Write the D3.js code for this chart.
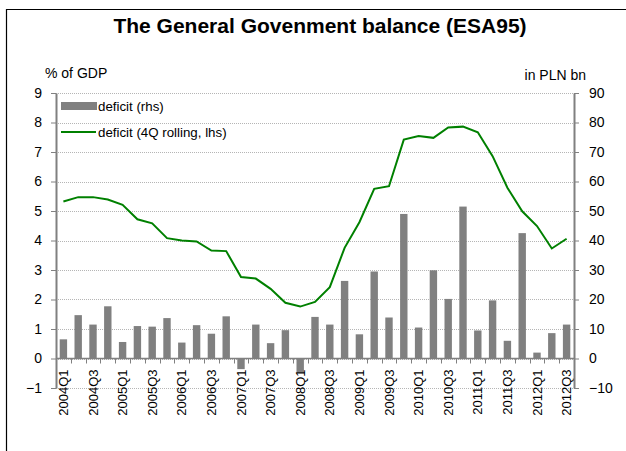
<!DOCTYPE html>
<html>
<head>
<meta charset="utf-8">
<script src="https://cdn.jsdelivr.net/npm/d3@7"></script>
<style>
  body { margin: 0; background: #fff; }
  text { font-family: "Liberation Sans", Arial, sans-serif; fill: #000; }
</style>
</head>
<body>
<div id="chart"></div>
<script>
// quarters 2004Q1 .. 2012Q3
var quarters = ["2004Q1","2004Q2","2004Q3","2004Q4","2005Q1","2005Q2","2005Q3","2005Q4",
  "2006Q1","2006Q2","2006Q3","2006Q4","2007Q1","2007Q2","2007Q3","2007Q4",
  "2008Q1","2008Q2","2008Q3","2008Q4","2009Q1","2009Q2","2009Q3","2009Q4",
  "2010Q1","2010Q2","2010Q3","2010Q4","2011Q1","2011Q2","2011Q3","2011Q4",
  "2012Q1","2012Q2","2012Q3"];

// deficit in PLN bn (rhs)
var deficitBn = [6.5,14.7,11.5,17.7,5.6,11.0,10.8,13.7,5.4,11.3,8.4,14.3,-3.6,11.5,5.2,9.6,
  -4.7,14.1,11.5,26.3,8.2,29.5,13.9,49.0,10.5,29.9,20.2,51.5,9.5,19.7,6.0,42.5,2.0,8.6,11.5];

// deficit 4Q rolling, % of GDP (lhs)
var deficitPct = [5.32,5.47,5.47,5.39,5.21,4.72,4.58,4.08,4.0,3.97,3.66,3.64,2.76,2.71,2.36,1.89,
  1.76,1.92,2.42,3.75,4.62,5.75,5.84,7.42,7.54,7.48,7.83,7.86,7.67,6.86,5.79,4.99,4.49,3.73,4.06];

var leftTicks = d3.range(-1, 10);
var rightTicks = d3.range(-10, 100, 10);

var width = 626, height = 451;
var margin = {top: 93, right: 52, bottom: 63, left: 56};

var svg = d3.select("#chart").append("svg")
    .attr("width", width)
    .attr("height", height);

// frame (top and left edges only visible)
svg.append("path")
    .attr("d", "M6.5," + height + "V9.5H" + width)
    .attr("fill", "none")
    .attr("stroke", "#000")
    .attr("stroke-width", 1.2);

svg.append("text")
    .attr("x", 320)
    .attr("y", 33)
    .attr("text-anchor", "middle")
    .style("font-size", "21px")
    .style("font-weight", "bold")
    .text("The General Govenment balance (ESA95)");

var x = d3.scaleBand()
    .domain(quarters)
    .range([margin.left, width - margin.right])
    .paddingInner(0.5)
    .paddingOuter(0.25);

var yL = d3.scaleLinear().domain([-1, 9]).range([height - margin.bottom, margin.top]);
var yR = d3.scaleLinear().domain([-10, 90]).range([height - margin.bottom, margin.top]);

// gridlines
svg.append("g")
  .selectAll("line")
  .data(leftTicks)
  .enter().append("line")
    .attr("x1", margin.left)
    .attr("x2", width - margin.right)
    .attr("y1", function(d) { return Math.round(yL(d)) + 0.5; })
    .attr("y2", function(d) { return Math.round(yL(d)) + 0.5; })
    .attr("stroke", "#b5b5b5")
    .attr("stroke-dasharray", "1,1");

// bars
svg.append("g")
  .selectAll("rect")
  .data(deficitBn)
  .enter().append("rect")
    .attr("x", function(d, i) { return x(quarters[i]); })
    .attr("width", x.bandwidth())
    .attr("y", function(d) { return yR(Math.max(0, d)); })
    .attr("height", function(d) { return Math.abs(yR(d) - yR(0)); })
    .attr("fill", "#808080");

// zero axis with quarter ticks
var step = x.step();
var xAxis = svg.append("g").attr("stroke", "#808080");
xAxis.append("line")
    .attr("x1", margin.left).attr("x2", width - margin.right)
    .attr("y1", yL(0)).attr("y2", yL(0))
    .attr("stroke-width", 1.5);
xAxis.selectAll(".qt")
  .data(quarters)
  .enter().append("line")
    .attr("class", "qt")
    .attr("x1", function(d) { return Math.round(x(d) + x.bandwidth() / 2 - step / 2) + 0.5; })
    .attr("x2", function(d) { return Math.round(x(d) + x.bandwidth() / 2 - step / 2) + 0.5; })
    .attr("y1", yL(0)).attr("y2", yL(0) + 5);

// rolling line
var line = d3.line()
    .x(function(d, i) { return x(quarters[i]) + x.bandwidth() / 2; })
    .y(function(d) { return yL(d); });

svg.append("path")
    .datum(deficitPct)
    .attr("d", line)
    .attr("fill", "none")
    .attr("stroke", "#008000")
    .attr("stroke-width", 2);

// x labels, every other quarter
svg.append("g")
  .selectAll("text")
  .data(quarters.filter(function(d, i) { return i % 2 === 0; }))
  .enter().append("text")
    .attr("transform", function(d) {
      return "translate(" + (x(d) + x.bandwidth() / 2) + "," + (yL(0) + 11) + ") rotate(-90)";
    })
    .attr("dy", "0.36em")
    .attr("text-anchor", "end")
    .style("font-size", "13px")
    .text(function(d) { return d; });

// y axes
function styleAxis(g) {
  g.select(".domain").attr("stroke", "#808080").attr("stroke-width", 2);
  g.selectAll(".tick line").attr("stroke", "#808080");
  g.selectAll(".tick text").style("font-size", "14px").attr("fill", "#000")
    .style("font-family", "Liberation Sans, Arial, sans-serif");
}

svg.append("g")
    .attr("transform", "translate(" + margin.left + ",0)")
    .call(d3.axisLeft(yL).tickValues(leftTicks).tickSize(5).tickSizeOuter(0).tickPadding(9))
    .call(styleAxis);

svg.append("g")
    .attr("transform", "translate(" + (width - margin.right) + ",0)")
    .call(d3.axisRight(yR).tickValues(rightTicks).tickSize(5).tickSizeOuter(0).tickPadding(10))
    .call(styleAxis);

// axis titles
svg.append("text")
    .attr("x", 45).attr("y", 78)
    .style("font-size", "14px")
    .text("% of GDP");

svg.append("text")
    .attr("x", 586).attr("y", 80)
    .attr("text-anchor", "end")
    .style("font-size", "14px")
    .text("in PLN bn");

// legend
var legend = svg.append("g");
legend.append("rect")
    .attr("x", 61).attr("y", 102)
    .attr("width", 36).attr("height", 8)
    .attr("fill", "#808080");
legend.append("text")
    .attr("x", 98).attr("y", 111)
    .style("font-size", "13.3px")
    .text("deficit (rhs)");
legend.append("line")
    .attr("x1", 61).attr("x2", 96)
    .attr("y1", 132).attr("y2", 132)
    .attr("stroke", "#008000")
    .attr("stroke-width", 2);
legend.append("text")
    .attr("x", 98).attr("y", 137)
    .style("font-size", "13.3px")
    .text("deficit (4Q rolling, lhs)");
</script>
</body>
</html>
